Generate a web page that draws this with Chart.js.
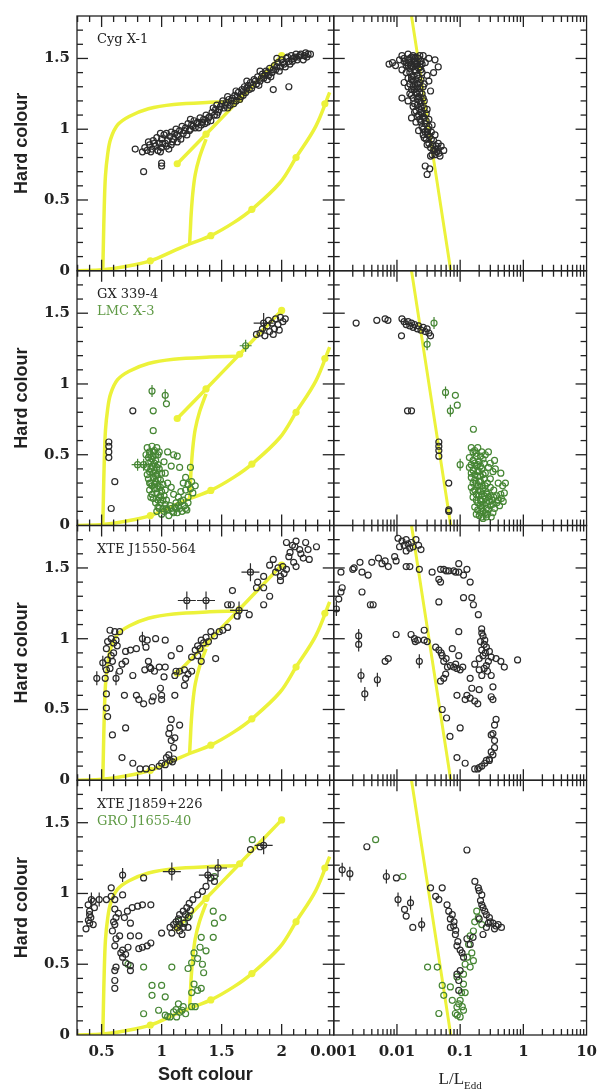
<!DOCTYPE html>
<html>
<head>
<meta charset="utf-8">
<script src="https://cdn.jsdelivr.net/npm/chart.js@4.4.1/dist/chart.umd.min.js"></script>
<style>
html, body { margin: 0; padding: 0; background: #fff; }
#wrap { position: relative; width: 605px; height: 1092px; }
</style>
</head>
<body>
<div id="wrap"><canvas id="hid" width="605" height="1092"></canvas></div>
<script>
// Model tracks (soft colour / hard colour), shared by every left panel
const curveOuter = [[0.51,0],[0.515,0.2],[0.522,0.45],[0.532,0.67],[0.55,0.82],[0.575,0.93],[0.633,1.03],[0.729,1.09],[0.89,1.145],[1.1,1.175],[1.4,1.19],[1.63,1.195]];
const curveDiag = [[1.13,0.756],[1.37,0.965],[1.65,1.21],[2.0,1.52]];
const curveMid = [[1.233,0.189],[1.24,0.3],[1.246,0.4],[1.26,0.55],[1.28,0.68],[1.315,0.8],[1.37,0.93]];
const curveLow = [[0.3,0],[0.51,0.007],[0.7,0.03],[0.906,0.07],[1.1,0.14],[1.233,0.189],[1.41,0.248],[1.6,0.34],[1.752,0.434],[1.984,0.62],[2.12,0.8],[2.284,1.02],[2.4,1.26]];
const curveDots = [[0.906,0.07],[1.41,0.248],[1.752,0.434],[2.12,0.8],[2.36,1.18],[1.13,0.756],[1.37,0.965],[1.65,1.21],[2.0,1.52]];
// L/LEdd line in the right panels
const eddLine = [[0.017,1.8],[0.071,0]];

// Row 1: Cyg X-1
const cygSoft = [[0.78,0.86],[0.84,0.84],[0.86,0.87],[0.88,0.85],[0.9,0.89],[0.92,0.86],[0.93,0.92],[0.95,0.88],[0.96,0.94],[0.97,0.85],[0.98,0.9],[1.0,0.93],[1.0,0.87],[1.02,0.96],[1.03,0.9],[1.05,0.92],[1.06,0.86],[1.07,0.95],[1.08,0.98],[1.1,0.93],[1.11,0.97],[1.12,1.0],[1.14,0.95],[1.15,0.99],[1.17,1.02],[1.18,0.97],[1.2,1.01],[1.22,1.04],[1.23,0.99],[1.25,1.03],[1.27,1.06],[1.28,1.01],[1.3,1.05],[1.32,1.08],[1.33,1.03],[1.35,1.07],[1.37,1.1],[1.38,1.05],[1.4,1.09],[1.42,1.12],[1.44,1.1],[1.45,1.14],[1.47,1.12],[1.49,1.16],[1.5,1.18],[1.52,1.15],[1.54,1.19],[1.56,1.21],[1.57,1.17],[1.59,1.22],[1.61,1.24],[1.62,1.2],[1.64,1.26],[1.66,1.23],[1.67,1.28],[1.69,1.3],[1.7,1.26],[1.72,1.31],[1.74,1.33],[1.75,1.29],[1.77,1.35],[1.79,1.32],[1.8,1.37],[1.82,1.34],[1.84,1.39],[1.85,1.36],[1.87,1.41],[1.89,1.38],[1.9,1.43],[1.92,1.4],[1.94,1.45],[1.95,1.42],[1.97,1.47],[1.99,1.44],[2.0,1.49],[2.02,1.46],[2.04,1.5],[2.06,1.48],[2.08,1.52],[2.1,1.5],[2.12,1.53],[2.14,1.51],[2.16,1.53],[2.18,1.49],[2.2,1.54],[2.22,1.53],[2.24,1.53],[0.85,0.7],[1.0,0.74],[1.0,0.76],[1.93,1.28],[2.06,1.3],[1.08,0.89],[1.13,0.91],[0.99,0.97],[1.24,1.07],[1.46,1.17],[1.68,1.24],[1.88,1.35],
    [0.89,0.91],[0.91,0.84],[0.94,0.9],[0.99,0.84],[1.01,0.9],[1.04,0.88],[1.04,0.97],[1.09,0.91],[1.13,0.96],[1.16,0.93],[1.19,0.99],[1.21,0.96],[1.24,1.0],[1.26,1.02],[1.29,1.04],[1.31,1.01],[1.34,1.05],[1.36,1.04],[1.39,1.08],[1.41,1.06],[1.43,1.15],[1.46,1.1],[1.48,1.14],[1.51,1.2],[1.53,1.17],[1.55,1.15],[1.58,1.2],[1.6,1.18],[1.63,1.23],[1.65,1.21],[1.68,1.27],[1.71,1.29],[1.73,1.28],[1.76,1.31],[1.78,1.34],[1.81,1.31],[1.83,1.36],[1.86,1.38],[1.88,1.4],[1.91,1.37],[1.93,1.42],[1.96,1.44],[1.98,1.41],[2.01,1.47],[2.03,1.44],[2.05,1.51],[2.07,1.46],[2.09,1.48],[2.11,1.51],[2.13,1.49],[2.15,1.52],[2.19,1.52],[2.21,1.51],[1.71,1.34],[1.82,1.41],[1.96,1.5],[1.55,1.23],[1.62,1.27]];
const cygL = [[0.0075,1.46],[0.0085,1.47],[0.0095,1.45],[0.011,1.49],[0.012,1.52],[0.013,1.5],[0.014,1.47],[0.015,1.53],[0.016,1.5],[0.017,1.45],[0.018,1.52],[0.019,1.48],[0.02,1.51],[0.021,1.46],[0.022,1.5],[0.024,1.48],[0.026,1.52],[0.028,1.47],[0.032,1.5],[0.04,1.49],[0.045,1.44],[0.012,1.42],[0.014,1.4],[0.016,1.43],[0.018,1.38],[0.02,1.41],[0.022,1.36],[0.025,1.4],[0.03,1.38],[0.038,1.4],[0.013,1.33],[0.015,1.3],[0.017,1.35],[0.019,1.28],[0.021,1.32],[0.023,1.26],[0.026,1.3],[0.032,1.34],[0.034,1.27],[0.012,1.22],[0.015,1.2],[0.017,1.24],[0.019,1.18],[0.021,1.21],[0.024,1.16],[0.027,1.2],[0.03,1.14],[0.019,1.12],[0.022,1.1],[0.017,1.08],[0.02,1.05],[0.023,1.07],[0.025,1.02],[0.028,1.04],[0.031,1.0],[0.036,1.03],[0.022,0.99],[0.026,0.96],[0.029,0.93],[0.033,0.95],[0.038,0.92],[0.045,0.9],[0.03,0.89],[0.034,0.87],[0.04,0.86],[0.05,0.88],[0.043,0.84],[0.036,0.82],[0.048,0.81],[0.055,0.85],[0.028,0.74],[0.033,0.72],[0.03,0.68],[0.014,1.45],[0.016,1.47],[0.018,1.44],[0.02,1.46],[0.022,1.43],[0.017,1.37],[0.02,1.35],[0.023,1.33],[0.018,1.3],[0.02,1.26],[0.022,1.23],[0.025,1.25],[0.023,1.14],[0.025,1.11],[0.027,1.08],[0.029,1.06],[0.032,1.07],[0.03,0.98],[0.035,0.98],[0.04,0.96],
    [0.013,1.48],[0.015,1.49],[0.017,1.51],[0.019,1.5],[0.021,1.48],[0.023,1.52],[0.025,1.46],[0.015,1.45],[0.019,1.46],[0.023,1.44],[0.016,1.4],[0.019,1.42],[0.021,1.38],[0.024,1.42],[0.015,1.36],[0.018,1.34],[0.021,1.3],[0.024,1.35],[0.027,1.32],[0.016,1.32],[0.017,1.28],[0.02,1.29],[0.023,1.29],[0.016,1.25],[0.018,1.22],[0.021,1.25],[0.023,1.2],[0.026,1.22],[0.018,1.16],[0.021,1.17],[0.024,1.19],[0.02,1.13],[0.024,1.12],[0.027,1.15],[0.021,1.09],[0.024,1.05],[0.026,1.09],[0.029,1.11],[0.026,1.0],[0.028,0.98],[0.032,1.02],[0.027,0.94],[0.031,0.96],[0.035,0.93],[0.032,0.9],[0.037,0.89],[0.042,0.88],[0.038,0.85],[0.045,0.86],[0.04,0.82],[0.046,0.83],[0.034,0.81]];

// Row 2: GX 339-4 (black) and LMC X-3 (green)
const gxSoft = [[1.82,1.36],[1.84,1.39],[1.86,1.34],[1.88,1.41],[1.9,1.37],[1.92,1.43],[1.94,1.39],[1.95,1.46],[1.97,1.42],[1.99,1.47],[2.01,1.44],[2.03,1.46],[1.89,1.45],[1.93,1.35],[1.98,1.38],[1.79,1.35],[0.56,0.59],[0.56,0.56],[0.56,0.52],[0.56,0.48],[0.61,0.31],[0.58,0.12],[0.76,0.81]];
const gxSoftCross = [[1.85,1.43]];
const lmcSoft = [[0.93,0.81],[1.04,0.86],[0.93,0.67],[0.88,0.55],[0.9,0.52],[0.92,0.56],[0.94,0.53],[0.96,0.55],[0.98,0.52],[0.89,0.48],[0.91,0.45],[0.93,0.49],[0.95,0.46],[0.97,0.43],[0.88,0.41],[0.9,0.38],[0.92,0.42],[0.94,0.39],[0.96,0.36],[0.98,0.4],[1.0,0.37],[0.89,0.33],[0.91,0.3],[0.93,0.34],[0.95,0.31],[0.97,0.28],[0.99,0.32],[1.01,0.29],[0.9,0.25],[0.92,0.22],[0.94,0.26],[0.96,0.23],[0.98,0.2],[1.0,0.24],[1.02,0.21],[1.04,0.18],[0.95,0.16],[0.97,0.13],[0.99,0.16],[1.01,0.12],[1.03,0.15],[1.05,0.11],[1.07,0.14],[1.09,0.1],[1.11,0.13],[1.13,0.09],[1.15,0.12],[1.17,0.1],[1.19,0.14],[1.21,0.11],[1.0,0.08],[1.06,0.07],[1.12,0.16],[1.18,0.18],[1.22,0.2],[1.24,0.26],[1.26,0.23],[1.28,0.28],[1.25,0.31],[1.22,0.29],[1.2,0.25],[1.16,0.24],[1.1,0.22],[1.08,0.27],[1.05,0.3],[1.02,0.45],[1.05,0.52],[1.1,0.5],[1.13,0.49],[1.08,0.42],[1.15,0.41],[1.2,0.34],[1.24,0.41],[1.18,0.3],[1.03,0.37],
    [0.87,0.5],[0.9,0.5],[0.93,0.52],[0.95,0.5],[0.97,0.5],[0.89,0.44],[0.92,0.47],[0.94,0.44],[0.96,0.41],[0.88,0.36],[0.91,0.4],[0.93,0.37],[0.95,0.35],[0.97,0.33],[0.9,0.3],[0.92,0.28],[0.94,0.29],[0.96,0.26],[0.91,0.2],[0.93,0.19],[0.97,0.18],[0.99,0.21],[1.01,0.18],[0.96,0.1],[0.98,0.12],[1.02,0.1],[1.04,0.12],[1.08,0.12],[1.1,0.09],[1.14,0.14],[1.16,0.17],[1.2,0.12],[1.22,0.16],[1.14,0.2],[1.12,0.12],[0.99,0.27],[1.03,0.25]];
const lmcSoftBar = [[0.92,0.95],[1.03,0.92]];
const lmcSoftCross = [[1.7,1.27],[0.8,0.43],[0.85,0.43]];
const gxL = [[0.00226,1.43],[0.0048,1.45],[0.0065,1.46],[0.0072,1.45],[0.012,1.46],[0.013,1.44],[0.014,1.42],[0.015,1.44],[0.016,1.41],[0.017,1.43],[0.018,1.4],[0.019,1.42],[0.021,1.39],[0.022,1.41],[0.024,1.38],[0.026,1.4],[0.028,1.37],[0.03,1.39],[0.032,1.36],[0.034,1.34],[0.0118,1.34],[0.0147,0.81],[0.017,0.81],[0.046,0.59],[0.046,0.56],[0.046,0.53],[0.046,0.49],[0.066,0.3],[0.066,0.11],[0.066,0.1]];
const lmcL = [[0.084,0.92],[0.09,0.85],[0.162,0.68],[0.15,0.55],[0.17,0.53],[0.19,0.55],[0.22,0.52],[0.25,0.5],[0.28,0.52],[0.14,0.48],[0.16,0.46],[0.18,0.49],[0.2,0.45],[0.23,0.47],[0.3,0.44],[0.35,0.46],[0.14,0.41],[0.16,0.39],[0.18,0.42],[0.2,0.38],[0.22,0.4],[0.25,0.37],[0.28,0.41],[0.33,0.38],[0.15,0.34],[0.17,0.32],[0.19,0.35],[0.21,0.31],[0.24,0.33],[0.27,0.3],[0.15,0.27],[0.17,0.25],[0.19,0.28],[0.21,0.24],[0.23,0.26],[0.26,0.23],[0.3,0.27],[0.34,0.25],[0.16,0.2],[0.18,0.18],[0.2,0.21],[0.22,0.17],[0.25,0.19],[0.28,0.2],[0.32,0.18],[0.38,0.21],[0.45,0.19],[0.5,0.23],[0.17,0.13],[0.19,0.11],[0.21,0.14],[0.23,0.1],[0.26,0.12],[0.3,0.14],[0.35,0.12],[0.42,0.14],[0.2,0.07],[0.23,0.05],[0.27,0.08],[0.31,0.06],[0.18,0.08],[0.4,0.3],[0.47,0.28],[0.52,0.3],[0.44,0.37],[0.3,0.33],[0.36,0.4],
    [0.16,0.52],[0.18,0.51],[0.21,0.49],[0.15,0.43],[0.17,0.44],[0.19,0.43],[0.21,0.42],[0.24,0.44],[0.15,0.37],[0.17,0.36],[0.19,0.38],[0.21,0.35],[0.23,0.36],[0.16,0.3],[0.18,0.3],[0.2,0.31],[0.22,0.28],[0.25,0.28],[0.16,0.24],[0.18,0.22],[0.2,0.25],[0.22,0.22],[0.24,0.21],[0.27,0.22],[0.3,0.21],[0.34,0.2],[0.4,0.18],[0.19,0.16],[0.21,0.18],[0.23,0.15],[0.26,0.16],[0.29,0.17],[0.33,0.15],[0.38,0.16],[0.44,0.22],[0.48,0.17],[0.22,0.12],[0.25,0.09],[0.28,0.11],[0.33,0.09],[0.21,0.09],[0.26,0.06],[0.22,0.06]];
const lmcLBar = [[0.0386,1.43],[0.03,1.28],[0.1,0.43],[0.0587,0.94],[0.07,0.81]];

// Row 3: XTE J1550-564
const x1550Soft = [[2.04,1.68],[2.12,1.69],[2.15,1.63],[2.2,1.68],[2.29,1.65],[2.07,1.61],[2.18,1.57],[2.23,1.56],[2.1,1.54],[2.01,1.51],[1.97,1.5],[2.04,1.49],[1.93,1.56],[1.9,1.52],[1.99,1.44],[1.85,1.44],[1.8,1.4],[1.79,1.36],[1.85,1.36],[1.9,1.3],[1.85,1.24],[1.99,1.41],[2.12,1.51],[2.11,1.65],[2.22,1.63],[2.06,1.58],[2.16,1.6],[2.09,1.66],[1.95,1.47],[2.02,1.46],[1.59,1.34],[1.55,1.24],[1.58,1.24],[1.73,1.17],[1.63,1.16],[1.55,1.08],[1.48,1.05],[1.41,1.05],[1.37,1.01],[1.33,0.99],[1.3,0.95],[1.28,0.92],[1.3,0.88],[1.33,0.84],[1.25,0.87],[1.45,0.86],[1.39,0.98],[1.44,1.02],[1.35,0.97],[1.32,0.93],[1.51,1.06],[1.15,0.93],[1.08,0.88],[1.03,0.99],[0.95,1.0],[0.88,0.99],[0.87,0.94],[0.79,0.93],[0.74,0.92],[0.7,0.91],[0.67,0.82],[0.7,0.84],[0.59,0.84],[0.57,0.79],[0.65,0.77],[0.76,0.74],[0.57,1.06],[0.61,1.05],[0.65,1.05],[0.58,1.0],[0.62,0.99],[0.55,0.98],[0.54,0.93],[0.58,0.88],[0.55,0.85],[0.54,0.78],[0.53,0.72],[0.54,0.61],[0.54,0.51],[0.55,0.45],[0.59,0.32],[0.6,0.97],[0.63,0.95],[0.6,0.9],[0.89,0.84],[0.91,0.79],[0.94,0.77],[1.03,0.8],[1.02,0.73],[1.11,0.74],[1.15,0.77],[1.19,0.78],[1.25,0.77],[1.2,0.72],[1.19,0.67],[1.11,0.6],[0.69,0.6],[0.79,0.6],[0.81,0.57],[0.85,0.54],[0.92,0.56],[0.93,0.59],[1.0,0.6],[1.0,0.57],[0.99,0.65],[0.7,0.37],[0.67,0.16],[0.76,0.12],[0.82,0.08],[0.87,0.08],[0.92,0.09],[0.98,0.1],[1.03,0.11],[1.07,0.14],[1.1,0.15],[1.06,0.18],[1.1,0.23],[1.08,0.28],[1.06,0.33],[1.07,0.37],[1.08,0.43],[1.15,0.39],[1.11,0.3],[1.04,0.16],[1.0,0.12],[1.09,0.13],[0.9,0.8],[0.86,0.78],[0.98,0.8],[1.12,0.77],[1.22,0.75]];
const x1550SoftBar = [[0.46,0.72],[0.51,0.83],[0.84,1.0],[0.62,0.72]];
const x1550SoftCross = [[1.21,1.27],[1.37,1.27],[1.645,1.2],[1.74,1.47]];
const x1550L = [[0.0104,1.71],[0.012,1.69],[0.013,1.66],[0.014,1.7],[0.015,1.67],[0.016,1.64],[0.017,1.68],[0.018,1.65],[0.02,1.7],[0.022,1.66],[0.024,1.63],[0.014,1.62],[0.011,1.65],[0.0092,1.58],[0.0097,1.55],[0.014,1.51],[0.016,1.51],[0.0226,1.49],[0.0021,1.5],[0.0028,1.47],[0.0035,1.45],[0.0026,1.54],[0.004,1.54],[0.0051,1.57],[0.0065,1.55],[0.0073,1.51],[0.0058,1.53],[0.0013,1.47],[0.0012,1.28],[0.0013,1.33],[0.00136,1.36],[0.0028,1.33],[0.0038,1.24],[0.0042,1.24],[0.002,1.49],[0.0065,0.84],[0.0073,0.86],[0.0097,1.03],[0.0167,1.03],[0.0189,1.0],[0.0213,0.99],[0.027,1.06],[0.027,0.99],[0.03,0.98],[0.0195,0.98],[0.036,1.47],[0.046,1.42],[0.049,1.4],[0.049,1.49],[0.055,1.49],[0.066,1.48],[0.079,1.48],[0.095,1.47],[0.095,1.53],[0.113,1.45],[0.128,1.49],[0.144,1.4],[0.046,1.26],[0.113,1.29],[0.153,1.29],[0.162,1.24],[0.194,1.17],[0.06,1.48],[0.085,1.47],[0.219,1.07],[0.23,1.02],[0.245,0.99],[0.21,0.98],[0.26,0.94],[0.23,0.88],[0.29,0.91],[0.31,0.87],[0.37,0.86],[0.44,0.84],[0.5,0.8],[0.81,0.85],[0.26,0.81],[0.27,0.77],[0.31,0.74],[0.22,0.74],[0.17,0.82],[0.095,1.05],[0.075,0.93],[0.095,0.88],[0.22,1.04],[0.24,0.96],[0.22,0.92],[0.25,0.9],[0.2,0.86],[0.28,0.84],[0.24,0.79],[0.2,0.78],[0.041,0.94],[0.046,0.92],[0.052,0.88],[0.055,0.84],[0.063,0.8],[0.07,0.81],[0.079,0.8],[0.089,0.79],[0.1,0.78],[0.059,0.75],[0.055,0.72],[0.049,0.7],[0.144,0.72],[0.153,0.65],[0.2,0.64],[0.128,0.6],[0.144,0.58],[0.17,0.56],[0.19,0.54],[0.12,0.57],[0.089,0.6],[0.31,0.59],[0.33,0.57],[0.33,0.66],[0.05,0.9],[0.06,0.86],[0.085,0.82],[0.11,0.8],[0.052,0.5],[0.061,0.44],[0.069,0.31],[0.089,0.16],[0.12,0.12],[0.1,0.37],[0.17,0.08],[0.2,0.09],[0.245,0.12],[0.29,0.15],[0.33,0.18],[0.35,0.23],[0.35,0.28],[0.33,0.33],[0.35,0.39],[0.37,0.43],[0.31,0.32],[0.29,0.14],[0.26,0.14],[0.22,0.1],[0.19,0.08],[0.31,0.2]];
const x1550LBar = [[0.0011,1.21],[0.00248,1.02],[0.00248,0.96],[0.0027,0.74],[0.0031,0.61],[0.0049,0.71],[0.0226,0.84]];

// Row 4: XTE J1859+226 (black) and GRO J1655-40 (green)
const x1859Soft = [[0.388,0.92],[0.4,0.875],[0.41,0.83],[0.4,0.79],[0.37,0.75],[0.43,0.945],[0.44,0.9],[0.43,0.78],[0.4,0.85],[0.39,0.81],[0.54,0.957],[0.58,0.98],[0.61,0.957],[0.58,1.04],[0.675,0.99],[0.85,1.11],[1.44,1.085],[1.41,1.11],[1.74,1.31],[1.82,1.33],[0.61,0.89],[0.62,0.83],[0.61,0.78],[0.59,0.735],[0.62,0.68],[0.61,0.63],[0.675,0.6],[0.7,0.57],[0.675,0.55],[0.7,0.51],[0.74,0.49],[0.74,0.455],[0.65,0.7],[0.74,0.7],[0.81,0.7],[0.81,0.61],[0.84,0.62],[0.88,0.63],[0.91,0.65],[0.61,0.455],[0.62,0.48],[0.61,0.385],[0.61,0.33],[0.715,0.875],[0.755,0.9],[0.8,0.91],[0.84,0.92],[0.91,0.92],[0.69,0.83],[0.74,0.79],[0.64,0.86],[0.66,0.58],[0.72,0.62],[0.6,0.8],[1.0,0.72],[1.07,0.76],[1.1,0.78],[1.14,0.82],[1.15,0.85],[1.18,0.875],[1.21,0.9],[1.23,0.93],[1.26,0.957],[1.3,0.99],[1.34,1.015],[1.37,1.05],[1.13,0.76],[1.15,0.735],[1.18,0.76],[1.19,0.79],[1.22,0.76],[1.22,0.83],[1.17,0.71],[1.085,0.72],[1.15,0.78],[1.2,0.85],[1.24,0.88],[1.12,0.8]];
const x1859SoftBar = [[0.415,0.957],[0.48,0.957],[0.675,1.13]];
const x1859SoftCross = [[1.085,1.155],[1.385,1.13],[1.47,1.18],[1.85,1.34]];
const groSoft = [[1.755,1.38],[1.44,1.12],[1.43,0.875],[1.51,0.83],[1.44,0.79],[1.33,0.69],[1.43,0.69],[1.32,0.62],[1.37,0.595],[1.27,0.58],[1.3,0.54],[1.34,0.5],[1.25,0.51],[1.22,0.47],[1.35,0.44],[1.27,0.36],[1.3,0.315],[1.25,0.3],[1.33,0.33],[0.85,0.48],[1.085,0.48],[0.92,0.35],[1.0,0.35],[0.92,0.28],[1.03,0.27],[0.85,0.15],[0.975,0.175],[1.03,0.14],[1.07,0.128],[1.1,0.163],[1.14,0.22],[1.17,0.175],[1.18,0.2],[1.125,0.128],[1.25,0.2],[0.72,0.5],[1.14,0.805],[1.18,0.79],[1.23,0.84],[1.05,0.13],[1.12,0.18],[1.2,0.15],[1.28,0.2],[1.15,0.16]];
const x1859L = [[0.00334,1.33],[0.0098,1.11],[0.0132,0.887],[0.014,0.84],[0.0178,0.76],[0.128,1.307],[0.034,1.04],[0.052,1.04],[0.041,0.98],[0.046,0.957],[0.062,0.92],[0.066,0.875],[0.075,0.85],[0.07,0.82],[0.079,0.77],[0.07,0.76],[0.084,0.71],[0.089,0.63],[0.107,0.58],[0.113,0.55],[0.1,0.455],[0.089,0.43],[0.095,0.385],[0.095,0.315],[0.171,1.085],[0.194,1.04],[0.22,0.99],[0.22,0.92],[0.245,0.875],[0.29,0.83],[0.33,0.79],[0.37,0.77],[0.45,0.76],[0.26,0.76],[0.23,0.71],[0.128,0.68],[0.144,0.64],[0.16,0.69],[0.2,0.82],[0.28,0.79],[0.2,1.02],[0.21,0.95],[0.23,0.9],[0.26,0.85],[0.3,0.8],[0.4,0.78],[0.35,0.75],[0.08,0.8],[0.085,0.74],[0.1,0.6],[0.092,0.66]];
const x1859LBar = [[0.00136,1.167],[0.0018,1.14],[0.0068,1.12],[0.0104,0.957],[0.0164,0.934],[0.0246,0.78]];
const groL = [[0.0046,1.38],[0.0124,1.12],[0.0305,0.48],[0.0435,0.48],[0.046,0.152],[0.052,0.35],[0.07,0.34],[0.055,0.28],[0.183,0.875],[0.194,0.83],[0.144,0.7],[0.136,0.64],[0.153,0.58],[0.162,0.525],[0.144,0.48],[0.113,0.43],[0.113,0.36],[0.12,0.3],[0.1,0.245],[0.089,0.198],[0.084,0.152],[0.1,0.128],[0.113,0.175],[0.075,0.245],[0.089,0.41],[0.162,0.735],[0.22,0.78],[0.13,0.55],[0.12,0.5],[0.105,0.3],[0.095,0.22],[0.09,0.14],[0.108,0.2],[0.17,0.8]];

// Source names per row: [text, colour]
const rowLabels = [
    [['Cyg X-1', 'black']],
    [['GX 339-4', 'black'], ['LMC X-3', 'green']],
    [['XTE J1550-564', 'black']],
    [['XTE J1859+226', 'black'], ['GRO J1655-40', 'green']]
];
const softTicks = [0.5, 1, 1.5, 2];
const hardTicks = [0, 0.5, 1, 1.5];

const BLACK = '#2b2b2b';
const GREEN = '#468634';
const YELLOW = 'rgb(236,242,58)';
const rowIds = ['y1', 'y2', 'y3', 'y4'];

const toXY = arr => arr.map(p => ({ x: p[0], y: p[1] }));

function points(data, xa, ya, color) {
    return {
        data: toXY(data), xAxisID: xa, yAxisID: ya, showLine: false, order: 1,
        pointStyle: 'circle', pointRadius: 3, pointBorderWidth: 1.2,
        borderColor: color, pointBorderColor: color,
        backgroundColor: 'rgba(0,0,0,0)', pointBackgroundColor: 'rgba(0,0,0,0)'
    };
}
function bars(data, xa, ya, color, style, r) {
    return {
        data: toXY(data), xAxisID: xa, yAxisID: ya, showLine: false, order: 1,
        pointStyle: style, pointRotation: style === 'line' ? 90 : 0, pointRadius: r, pointBorderWidth: 1.2,
        borderColor: color, pointBorderColor: color, pointBackgroundColor: 'rgba(0,0,0,0)'
    };
}
function track(data, xa, ya, width) {
    return {
        data: toXY(data), xAxisID: xa, yAxisID: ya, showLine: true, order: 2,
        borderColor: YELLOW, borderWidth: width, tension: 0.35, pointRadius: 0, fill: false
    };
}

const datasets = [];
rowIds.forEach(id => {
    [curveOuter, curveDiag, curveMid, curveLow].forEach(c => datasets.push(track(c, 'xs', id, 3.5)));
    datasets.push({
        data: toXY(curveDots), xAxisID: 'xs', yAxisID: id, showLine: false, order: 2,
        pointRadius: 3.6, pointBorderWidth: 0, pointBackgroundColor: YELLOW, backgroundColor: YELLOW
    });
    datasets.push(track(eddLine, 'xl', id, 3));
});

// Row 1
datasets.push(points(cygSoft, 'xs', 'y1', BLACK));
datasets.push(points(cygL, 'xl', 'y1', BLACK));
// Row 2
datasets.push(points(gxSoft, 'xs', 'y2', BLACK));
datasets.push(points(gxSoftCross, 'xs', 'y2', BLACK));
datasets.push(bars(gxSoftCross, 'xs', 'y2', BLACK, 'cross', 10));
datasets.push(points(lmcSoft, 'xs', 'y2', GREEN));
datasets.push(points(lmcSoftBar, 'xs', 'y2', GREEN));
datasets.push(bars(lmcSoftBar, 'xs', 'y2', GREEN, 'line', 6));
datasets.push(points(lmcSoftCross, 'xs', 'y2', GREEN));
datasets.push(bars(lmcSoftCross, 'xs', 'y2', GREEN, 'cross', 6));
datasets.push(points(gxL, 'xl', 'y2', BLACK));
datasets.push(points(lmcL, 'xl', 'y2', GREEN));
datasets.push(points(lmcLBar, 'xl', 'y2', GREEN));
datasets.push(bars(lmcLBar, 'xl', 'y2', GREEN, 'line', 6));
// Row 3
datasets.push(points(x1550Soft, 'xs', 'y3', BLACK));
datasets.push(points(x1550SoftBar, 'xs', 'y3', BLACK));
datasets.push(bars(x1550SoftBar, 'xs', 'y3', BLACK, 'line', 7));
datasets.push(points(x1550SoftCross, 'xs', 'y3', BLACK));
datasets.push(bars(x1550SoftCross, 'xs', 'y3', BLACK, 'cross', 9));
datasets.push(points(x1550L, 'xl', 'y3', BLACK));
datasets.push(points(x1550LBar, 'xl', 'y3', BLACK));
datasets.push(bars(x1550LBar, 'xl', 'y3', BLACK, 'line', 7));
// Row 4
datasets.push(points(x1859Soft, 'xs', 'y4', BLACK));
datasets.push(points(x1859SoftBar, 'xs', 'y4', BLACK));
datasets.push(bars(x1859SoftBar, 'xs', 'y4', BLACK, 'line', 7));
datasets.push(points(x1859SoftCross, 'xs', 'y4', BLACK));
datasets.push(bars(x1859SoftCross, 'xs', 'y4', BLACK, 'cross', 9));
datasets.push(points(groSoft, 'xs', 'y4', GREEN));
datasets.push(points(x1859L, 'xl', 'y4', BLACK));
datasets.push(points(x1859LBar, 'xl', 'y4', BLACK));
datasets.push(bars(x1859LBar, 'xl', 'y4', BLACK, 'line', 7));
datasets.push(points(groL, 'xl', 'y4', GREEN));

const tickFont = { family: 'DejaVu Serif', size: 15, weight: 'bold' };
const titleFont = { family: 'Liberation Sans', size: 18, weight: 'bold' };

function yScale(weight) {
    return {
        type: 'linear', axis: 'y', position: 'left', stack: 'rows', stackWeight: 1, weight: weight,
        min: 0, max: 1.8,
        grid: { display: false, drawTicks: false }, border: { display: false },
        ticks: {
            stepSize: 0.5, includeBounds: false, padding: 7, color: '#222', font: tickFont, autoSkip: false,
            callback: v => hardTicks.some(t => Math.abs(t - v) < 1e-6) ? String(v) : ''
        },
        title: { display: true, text: 'Hard colour', color: '#222', font: titleFont, padding: { top: 11, bottom: 0 } },
        afterFit: s => { s.width = 77; }
    };
}

// frames with inward ticks on every side, panel names, L/LEdd title
const framePlugin = {
    id: 'frames',
    afterDraw(chart) {
        const ctx = chart.ctx;
        const xs = chart.scales.xs, xl = chart.scales.xl;
        ctx.save();
        ctx.strokeStyle = '#222';
        ctx.lineWidth = 1.3;
        const tick = (x1, y1, x2, y2) => { ctx.beginPath(); ctx.moveTo(x1, y1); ctx.lineTo(x2, y2); ctx.stroke(); };
        rowIds.forEach((id, r) => {
            const ys = chart.scales[id];
            const t = ys.top, b = ys.bottom;
            [xs, xl].forEach(xsc => {
                const l = xsc.left, rt = xsc.right;
                ctx.strokeRect(l, t, rt - l, b - t);
                for (let i = 1; i < 18; i++) {
                    const py = ys.getPixelForValue(i / 10);
                    const len = i % 5 === 0 ? 11 : 6;
                    tick(l, py, l + len, py);
                    tick(rt, py, rt - len, py);
                }
            });
            for (let i = 3; i <= 24; i++) {
                const v = i / 10;
                if (v <= xs.min || v >= xs.max) continue;
                const px = xs.getPixelForValue(v);
                const len = i % 5 === 0 ? 11 : 6;
                tick(px, b, px, b - len);
                tick(px, t, px, t + len);
            }
            for (let e = -3; e <= 0; e++) {
                for (let m = 1; m <= 9; m++) {
                    const v = m * Math.pow(10, e);
                    if (v <= xl.min) continue;
                    const px = xl.getPixelForValue(v);
                    const len = m === 1 ? 11 : 6;
                    tick(px, b, px, b - len);
                    tick(px, t, px, t + len);
                }
            }
            ctx.font = '13px "DejaVu Serif"';
            ctx.textBaseline = 'middle';
            ctx.textAlign = 'left';
            rowLabels[r].forEach((lab, k) => {
                ctx.fillStyle = lab[1] === 'green' ? '#5f9a45' : '#222';
                ctx.fillText(lab[0], 97, t + 24 + k * 17);
            });
        });
        // x title of the right column: L/L_Edd
        ctx.fillStyle = '#222';
        ctx.textBaseline = 'alphabetic';
        ctx.font = '17px "Liberation Serif"';
        const main = 'L/L';
        const wMain = ctx.measureText(main).width;
        ctx.font = '11px "Liberation Serif"';
        const wSub = ctx.measureText('Edd').width;
        const cx = (xl.left + xl.right) / 2;
        const x0 = cx - (wMain + wSub) / 2;
        ctx.font = '17px "Liberation Serif"';
        ctx.fillText(main, x0, 1084);
        ctx.font = '11px "Liberation Serif"';
        ctx.fillText('Edd', x0 + wMain, 1089);
        ctx.restore();
    }
};

new Chart(document.getElementById('hid'), {
    type: 'scatter',
    data: { datasets: datasets },
    options: {
        responsive: false,
        animation: false,
        events: [],
        layout: { padding: { top: 7, right: 10, left: 0, bottom: 0 } },
        plugins: { legend: { display: false }, tooltip: { enabled: false } },
        scales: {
            xs: {
                type: 'linear', axis: 'x', position: 'bottom', stack: 'cols', stackWeight: 261,
                min: 0.295, max: 2.434,
                grid: { display: false, drawTicks: false }, border: { display: false },
                ticks: {
                    stepSize: 0.5, includeBounds: false, padding: 8, color: '#222', font: tickFont, autoSkip: false, maxRotation: 0,
                    callback: v => softTicks.some(t => Math.abs(t - v) < 1e-6) ? String(v) : ''
                },
                title: { display: true, text: 'Soft colour', color: '#222', font: titleFont, padding: { top: 0, bottom: 6 } },
                afterFit: s => { s.height = 57; }
            },
            xl: {
                type: 'logarithmic', axis: 'x', position: 'bottom', stack: 'cols', stackWeight: 257,
                min: 0.001, max: 10,
                grid: { display: false, drawTicks: false }, border: { display: false },
                ticks: {
                    padding: 8, color: '#222', font: tickFont, autoSkip: false, maxRotation: 0,
                    callback: v => {
                        const l = Math.log10(v);
                        return Math.abs(l - Math.round(l)) < 1e-6 ? String(Number(v.toPrecision(1))) : '';
                    }
                },
                title: { display: false },
                afterFit: s => { s.height = 57; }
            },
            y1: yScale(4),
            y2: yScale(3),
            y3: yScale(2),
            y4: yScale(1)
        }
    },
    plugins: [framePlugin]
});
</script>
</body>
</html>
